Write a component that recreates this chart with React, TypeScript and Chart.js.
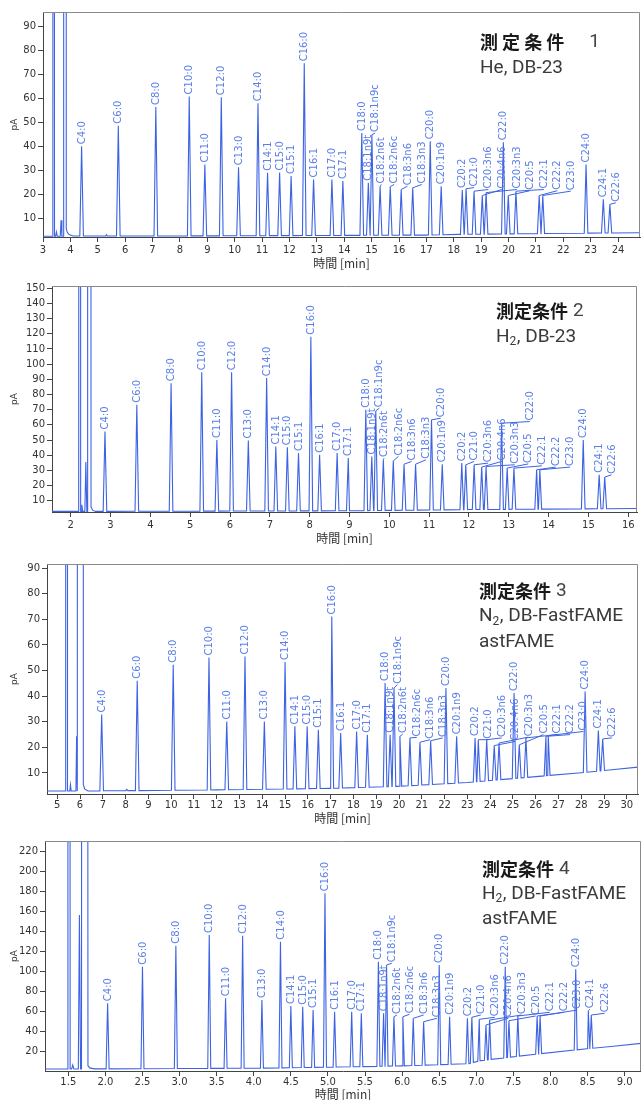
import React, { useEffect, useRef } from "react";
import { Chart, registerables } from "chart.js";
Chart.register(...registerables);

// ---------- shared peak names (elution order) ----------
const peakNames = [
  "C4:0", "C6:0", "C8:0", "C10:0", "C11:0", "C12:0", "C13:0", "C14:0", "C14:1", "C15:0",
  "C15:1", "C16:0", "C16:1", "C17:0", "C17:1", "C18:0", "C18:1n9t", "C18:1n9c", "C18:2n6t", "C18:2n6c",
  "C18:3n6", "C18:3n3", "C20:0", "C20:1n9", "C20:2", "C21:0", "C20:3n6", "C20:4n6", "C20:3n3", "C22:0",
  "C20:5", "C22:1", "C22:2", "C23:0", "C24:0", "C24:1", "C22:6",
];

// ---------- panel 1 : He, DB-23 ----------
const p1Times = [4.41, 5.75, 7.12, 8.34, 8.91, 9.51, 10.14, 10.85, 11.2, 11.64, 12.06, 12.54, 12.88, 13.55, 13.95, 14.64, 14.88, 15.01, 15.31, 15.68, 16.08, 16.5, 17.14, 17.54, 18.31, 18.45, 18.74, 19.04, 19.18, 19.81, 19.99, 20.27, 21.12, 21.25, 22.83, 23.46, 23.7];
const p1Heights = [40.2, 48.8, 56.6, 61.0, 32.6, 60.7, 31.5, 58.2, 29.2, 29.3, 27.8, 74.8, 26.4, 26.4, 25.7, 45.8, 25.0, 45.0, 23.4, 23.4, 22.2, 22.9, 42.3, 23.6, 22.0, 22.5, 21.5, 19.7, 20.9, 41.9, 19.7, 21.5, 19.7, 19.7, 32.6, 18.1, 16.0];
const p1TraceT = [3.0, 3.36, 3.39, 3.42, 3.46, 3.49, 3.52, 3.63, 3.66, 3.69, 3.74, 3.755, 3.83, 3.85, 3.88, 3.95, 4.1, 5.29, 5.32, 5.35, 10, 17, 18.2, 24.8];
const p1TraceV = [2.7, 2.7, 2000, 2.7, 2.7, 4.5, 2.7, 2.7, 9.4, 2.7, 2.7, 2000, 2000, 6, 4.5, 3.4, 2.8, 2.8, 3.3, 2.8, 2.9, 3.2, 3.5, 4.2];
const p1LabelT = [null, null, null, null, null, null, null, null, null, null, null, null, null, null, null, null, null, 15.13, 15.35, 15.82, 16.31, 16.83, null, null, null, 18.74, 19.26, 19.75, 20.3, null, 20.78, 21.29, 21.78, 22.27, null, null, 23.92];
const p1LabelV = [null, null, null, null, null, null, null, null, null, null, null, null, null, null, null, null, null, 45.8, 24.3, 24.3, 23.6, 24.3, null, null, null, 23.0, 22.2, 22.2, 22.2, null, 21.7, 22.2, 21.7, 21.5, null, null, 16.7];
const p1XTicks = { min: 3, max: 24.8, step: 1 };
const p1YTicks = { min: 2.4, max: 96.2, step: 10 };

// ---------- panel 2 : H2, DB-23 ----------
const p2Times = [2.86, 3.66, 4.52, 5.29, 5.67, 6.04, 6.46, 6.92, 7.15, 7.44, 7.72, 8.03, 8.25, 8.69, 8.97, 9.41, 9.56, 9.66, 9.85, 10.1, 10.37, 10.66, 11.06, 11.33, 11.82, 11.92, 12.13, 12.32, 12.43, 12.82, 12.96, 13.13, 13.7, 13.78, 14.87, 15.27, 15.41];
const p2Heights = [55.6, 73.2, 87.5, 94.7, 50.1, 94.7, 49.7, 90.8, 45.7, 45.3, 41.4, 118.1, 40.3, 41.4, 38.1, 69.9, 39.2, 69.2, 37.0, 36.3, 34.1, 34.1, 63.3, 34.1, 34.8, 33.7, 33.7, 32.2, 32.6, 61.1, 31.5, 31.5, 30.4, 30.4, 50.1, 27.1, 25.6];
const p2TraceT = [1.5, 2.2, 2.225, 2.25, 2.26, 2.28, 2.3, 2.355, 2.38, 2.405, 2.415, 2.425, 2.495, 2.51, 2.55, 2.62, 9, 12, 16.3];
const p2TraceV = [3.0, 3.0, 2000, 3.0, 3.0, 7.3, 3.0, 3.0, 35.5, 3.0, 3.0, 2000, 2000, 6, 3.8, 3.0, 3.4, 4.2, 4.9];
const p2LabelT = [null, null, null, null, null, null, null, null, null, null, null, null, null, null, null, null, null, 9.75, 9.87, 10.23, 10.56, 10.92, 11.29, null, null, 12.13, 12.48, 12.82, 13.15, 13.53, 13.49, 13.83, 14.18, 14.54, null, null, 15.58];
const p2LabelV = [null, null, null, null, null, null, null, null, null, null, null, null, null, null, null, null, null, 71.0, 38.1, 39.2, 35.9, 37.0, 64.4, null, null, 35.9, 34.8, 35.9, 33.7, 62.2, 34.3, 33.0, 32.2, 32.2, null, null, 27.1];
const p2XTicks = { min: 1.53, max: 16.22, step: 1 };
const p2YTicks = { min: 2.6, max: 151.5, step: 10 };

// ---------- panel 3 : N2, DB-FastFAME ----------
const p3Times = [6.95, 8.51, 10.09, 11.66, 12.44, 13.24, 14.09, 15.0, 15.43, 15.97, 16.46, 17.05, 17.44, 18.14, 18.61, 19.39, 19.61, 19.78, 20.04, 20.48, 20.92, 21.39, 22.06, 22.53, 23.34, 23.48, 23.85, 24.18, 24.39, 25.05, 25.28, 25.57, 26.45, 26.55, 28.17, 28.75, 28.94];
const p3Heights = [32.8, 46.0, 52.3, 55.1, 30.1, 55.5, 30.1, 53.3, 28.2, 28.2, 26.9, 71.1, 25.6, 26.2, 24.9, 45.1, 24.9, 43.2, 24.3, 23.7, 22.0, 22.6, 43.2, 24.3, 23.7, 23.0, 23.0, 20.7, 21.7, 41.2, 21.0, 23.7, 24.3, 24.6, 41.8, 26.6, 23.3];
const p3TraceT = [4.55, 5.35, 5.37, 5.43, 5.45, 5.55, 5.58, 5.61, 5.82, 5.85, 5.88, 5.905, 5.93, 6.12, 6.145, 6.2, 6.35, 8.0, 8.05, 8.1, 12, 17, 20, 23, 28, 30.5];
const p3TraceV = [3.0, 3.0, 2000, 2000, 3.0, 3.0, 5.4, 3.0, 3.0, 24.3, 3.0, 3.0, 2000, 2000, 5.5, 3.8, 3.0, 3.1, 3.6, 3.1, 3.4, 4.0, 4.8, 6.3, 10.1, 12.3];
const p3LabelT = [null, null, null, null, null, null, null, null, null, null, null, null, null, null, null, null, null, 19.93, 20.16, 20.78, 21.36, 21.92, null, null, null, 23.92, 24.51, 25.09, 25.68, null, 26.34, 26.92, 27.51, 28.09, null, null, 29.34];
const p3LabelV = [null, null, null, null, null, null, null, null, null, null, null, null, null, null, null, null, null, 44.5, 25.2, 23.9, 23.0, 23.7, null, null, null, 23.0, 23.7, 22.3, 24.0, null, 25.0, 25.0, 25.0, 26.2, null, null, 23.7];
const p3XTicks = { min: 4.55, max: 30.49, step: 1 };
const p3YTicks = { min: 1.8, max: 91.6, step: 10 };

// ---------- panel 4 : H2, DB-FastFAME ----------
const p4Times = [2.03, 2.5, 2.95, 3.4, 3.62, 3.85, 4.11, 4.36, 4.5, 4.66, 4.8, 4.96, 5.09, 5.32, 5.45, 5.68, 5.75, 5.79, 5.89, 6.01, 6.15, 6.29, 6.5, 6.64, 6.88, 6.94, 7.04, 7.13, 7.18, 7.39, 7.44, 7.56, 7.82, 7.86, 8.34, 8.51, 8.55];
const p4Heights = [68.4, 105, 126, 136.7, 73.4, 136, 71.7, 130, 65.7, 65, 61.7, 178.4, 60, 60, 58.4, 110, 58.4, 106.7, 55, 55, 53.4, 50, 106.7, 55, 53.4, 54.4, 52.4, 46.7, 51.7, 105, 51.0, 55.7, 55.7, 55.7, 102.4, 61, 56.7];
const p4TraceT = [1.19, 1.485, 1.495, 1.515, 1.525, 1.545, 1.56, 1.575, 1.635, 1.65, 1.665, 1.678, 1.688, 1.752, 1.765, 1.79, 1.85, 4.0, 5.0, 6.0, 6.9, 7.05, 7.8, 8.5, 8.85, 9.25];
const p4TraceV = [2.7, 2.7, 2000, 2000, 2.7, 2.7, 6.7, 2.7, 2.7, 156.7, 2.7, 2.7, 2000, 2000, 6, 3.8, 2.8, 3.5, 4.5, 5.8, 8.0, 11.0, 17.5, 23.0, 25.5, 28.5];
const p4LabelT = [null, null, null, null, null, null, null, null, null, null, null, null, null, null, null, null, null, 5.86, 5.93, 6.1, 6.29, 6.47, null, null, null, 7.06, 7.25, 7.43, 7.61, null, 7.8, 7.99, 8.18, 8.36, null, 8.53, 8.73];
const p4LabelV = [null, null, null, null, null, null, null, null, null, null, null, null, null, null, null, null, null, 108.4, 56.7, 57.4, 56.7, 53.4, null, null, null, 56.7, 54.4, 53.4, 56.7, null, 55.7, 59.4, 59.4, 61.7, null, 62.5, 58.4];
const p4XTicks = { min: 1.186, max: 9.22, step: 0.5 };
const p4YTicks = { min: 0.7, max: 230.7, step: 20 };

// ---------- texts ----------
const titleTexts = ["測 定 条 件", "測定条件", "測定条件", "測定条件"];
const titleNums = ["1", "2", "3", "4"];
const subLines = [
  [[["He, DB-23", false]]],
  [[["H", false], ["2", true], [", DB-23", false]]],
  [[["N", false], ["2", true], [", DB-FastFAME", false]], [["astFAME", false]]],
  [[["H", false], ["2", true], [", DB-FastFAME", false]], [["astFAME", false]]],
] as [string, boolean][][][];
const xAxisTitle = "時間 [min]";
const yAxisTitle = "pA";

const LINE_COLOR = "#3d63e2";
const LABEL_COLOR = "#5b7fe8";
const AXIS_COLOR = "#444";
const FRAME_COLOR = "#8a8a8a";

type Pt = { x: number; y: number };

interface PanelDef {
  canvasTop: number;
  canvasH: number;
  area: { left: number; right: number; top: number; bottom: number };
  xt: { min: number; max: number; step: number };
  yt: { min: number; max: number; step: number };
  xDecimals: number;
  times: number[];
  heights: number[];
  traceT: number[];
  traceV: number[];
  labelT: (number | null)[];
  labelV: (number | null)[];
  hwPx: number;
  idx: number;
  titleX: number;
  titleY: number;
  numGap: number;
  lineGap: number;
  xTitleY: number;
  xTickPad: number;
}

const panels: PanelDef[] = [
  { canvasTop: 0, canvasH: 275, area: { left: 43, right: 640, top: 12, bottom: 237 }, xt: p1XTicks, yt: p1YTicks, xDecimals: 0, times: p1Times, heights: p1Heights, traceT: p1TraceT, traceV: p1TraceV, labelT: p1LabelT, labelV: p1LabelV, hwPx: 1.8, idx: 0, titleX: 480, titleY: 42, numGap: 25, lineGap: 26, xTitleY: 263, xTickPad: 2 },
  { canvasTop: 275, canvasH: 280, area: { left: 52, right: 637, top: 11, bottom: 237 }, xt: p2XTicks, yt: p2YTicks, xDecimals: 0, times: p2Times, heights: p2Heights, traceT: p2TraceT, traceV: p2TraceV, labelT: p2LabelT, labelV: p2LabelV, hwPx: 1.8, idx: 1, titleX: 496, titleY: 36, numGap: 5, lineGap: 26, xTitleY: 263, xTickPad: 2 },
  { canvasTop: 555, canvasH: 278, area: { left: 47, right: 638, top: 9, bottom: 239 }, xt: p3XTicks, yt: p3YTicks, xDecimals: 0, times: p3Times, heights: p3Heights, traceT: p3TraceT, traceV: p3TraceV, labelT: p3LabelT, labelV: p3LabelV, hwPx: 1.8, idx: 2, titleX: 479, titleY: 36, numGap: 5, lineGap: 25.5, xTitleY: 263, xTickPad: 0 },
  { canvasTop: 823, canvasH: 277, area: { left: 45, right: 641, top: 18, bottom: 248 }, xt: p4XTicks, yt: p4YTicks, xDecimals: 1, times: p4Times, heights: p4Heights, traceT: p4TraceT, traceV: p4TraceV, labelT: p4LabelT, labelV: p4LabelV, hwPx: 1.5, idx: 3, titleX: 482, titleY: 46, numGap: 5, lineGap: 25, xTitleY: 271, xTickPad: 0 },
];

function traceAt(t: number, bt: number[], bv: number[]): number {
  if (t <= bt[0]) return bv[0];
  for (let i = 1; i < bt.length; i++) {
    if (t <= bt[i]) {
      const f = (t - bt[i - 1]) / (bt[i] - bt[i - 1]);
      return bv[i - 1] + f * (bv[i] - bv[i - 1]);
    }
  }
  return bv[bv.length - 1];
}

function buildPoints(p: PanelDef): Pt[] {
  const pxPerMin = (p.area.right - p.area.left) / (p.xt.max - p.xt.min);
  const hw = p.hwPx / pxPerMin;
  const pts: Pt[] = [];
  p.traceT.forEach((t, i) => pts.push({ x: t, y: p.traceV[i] }));
  p.times.forEach((t, i) => {
    pts.push({ x: t - hw, y: traceAt(t - hw, p.traceT, p.traceV) });
    pts.push({ x: t, y: p.heights[i] });
    pts.push({ x: t + hw, y: traceAt(t + hw, p.traceT, p.traceV) });
  });
  pts.sort((a, b) => a.x - b.x);
  return pts;
}

function makeChart(canvas: HTMLCanvasElement, p: PanelDef) {
  const tickFont = { family: "DejaVu Sans", size: 10 };
  const framePlugin = {
    id: "frame" + p.idx,
    afterDatasetsDraw(chart: any) {
      const { ctx, chartArea: a } = chart;
      ctx.save();
      ctx.strokeStyle = FRAME_COLOR;
      ctx.lineWidth = 1;
      ctx.beginPath();
      ctx.moveTo(a.left, a.top + 0.5);
      ctx.lineTo(a.right - 0.5, a.top + 0.5);
      ctx.lineTo(a.right - 0.5, a.bottom);
      ctx.stroke();
      ctx.restore();
    },
  };
  const labelPlugin = {
    id: "labels" + p.idx,
    afterDatasetsDraw(chart: any) {
      const { ctx } = chart;
      const xs = chart.scales.x;
      const ys = chart.scales.y;
      ctx.save();
      ctx.font = "10px 'DejaVu Sans'";
      ctx.textAlign = "left";
      ctx.textBaseline = "middle";
      p.times.forEach((t, i) => {
        const ax = xs.getPixelForValue(t);
        const ay = ys.getPixelForValue(p.heights[i]);
        let lx = ax;
        let ly = ay - 2;
        const lt = p.labelT[i];
        const lv = p.labelV[i];
        if (lt !== null && lv !== null) {
          lx = xs.getPixelForValue(lt);
          ly = ys.getPixelForValue(lv);
          ctx.strokeStyle = LINE_COLOR;
          ctx.lineWidth = 1;
          ctx.beginPath();
          ctx.moveTo(ax, ay);
          ctx.lineTo(lx, ly);
          ctx.stroke();
          ly -= 1;
        }
        ctx.fillStyle = LABEL_COLOR;
        ctx.save();
        ctx.translate(lx, ly);
        ctx.rotate(-Math.PI / 2);
        ctx.fillText(peakNames[i], 0, 0.5);
        ctx.restore();
      });
      ctx.restore();
    },
  };
  const textPlugin = {
    id: "texts" + p.idx,
    afterDraw(chart: any) {
      const { ctx, chartArea: a } = chart;
      ctx.save();
      ctx.fillStyle = "#333";
      ctx.textBaseline = "middle";
      ctx.textAlign = "center";
      ctx.font = "12px 'Noto Sans CJK JP'";
      ctx.fillText(xAxisTitle, (a.left + a.right) / 2, p.xTitleY);
      ctx.save();
      ctx.translate(15, (a.top + a.bottom) / 2);
      ctx.rotate(-Math.PI / 2);
      ctx.font = "9px 'DejaVu Sans'";
      ctx.fillText(yAxisTitle, 0, 0);
      ctx.restore();
      ctx.textAlign = "left";
      ctx.font = "bold 18px 'Noto Sans CJK JP'";
      ctx.fillStyle = "#1a1a1a";
      ctx.fillText(titleTexts[p.idx], p.titleX, p.titleY);
      const w = ctx.measureText(titleTexts[p.idx]).width;
      ctx.font = "19px Roboto";
      ctx.fillStyle = "#444";
      ctx.fillText(titleNums[p.idx], p.titleX + w + p.numGap, p.titleY);
      subLines[p.idx].forEach((segs, li) => {
        let x = p.titleX;
        const y = p.titleY + p.lineGap * (li + 1);
        segs.forEach(([txt, sub]) => {
          ctx.font = sub ? "12px Roboto" : "19px Roboto";
          ctx.fillStyle = "#3a3a3a";
          ctx.fillText(txt, x, sub ? y + 5 : y);
          x += ctx.measureText(txt).width + (sub ? 0.5 : 0);
        });
      });
      ctx.restore();
    },
  };

  const pts = buildPoints(p);
  return new Chart(canvas, {
    type: "line",
    data: {
      datasets: [
        {
          data: pts as any,
          borderColor: LINE_COLOR,
          borderWidth: 1.1,
          pointRadius: 0,
          tension: 0,
          fill: false,
        },
      ],
    },
    options: {
      animation: false,
      responsive: false,
      parsing: false,
      events: [],
      layout: { padding: { top: p.area.top, right: 641 - p.area.right, left: 0, bottom: 0 } },
      plugins: { legend: { display: false }, tooltip: { enabled: false }, title: { display: false } },
      scales: {
        x: {
          type: "linear",
          min: p.xt.min,
          max: p.xt.max,
          afterFit: (s: any) => {
            s.height = p.canvasH - p.area.bottom;
          },
          ticks: {
            stepSize: p.xt.step,
            autoSkip: false,
            maxRotation: 0,
            includeBounds: false,
            font: tickFont,
            color: "#333",
            padding: p.xTickPad,
            callback: (v: any) => Number(v).toFixed(p.xDecimals),
          },
          grid: { display: true, drawOnChartArea: false, drawTicks: true, tickLength: 5, color: AXIS_COLOR },
          border: { display: true, color: AXIS_COLOR },
        },
        y: {
          type: "linear",
          min: p.yt.min,
          max: p.yt.max,
          afterFit: (s: any) => {
            s.width = p.area.left;
          },
          ticks: {
            stepSize: p.yt.step,
            includeBounds: false,
            font: tickFont,
            color: "#333",
            padding: 2,
          },
          grid: { display: true, drawOnChartArea: false, drawTicks: true, tickLength: 5, color: AXIS_COLOR },
          border: { display: true, color: AXIS_COLOR },
        },
      },
    } as any,
    plugins: [framePlugin, labelPlugin, textPlugin],
  });
}

function PanelChart({ p }: { p: PanelDef }) {
  const ref = useRef<HTMLCanvasElement>(null);
  useEffect(() => {
    if (!ref.current) return;
    const chart = makeChart(ref.current, p);
    return () => chart.destroy();
  }, [p]);
  return (
    <canvas
      ref={ref}
      width={641}
      height={p.canvasH}
      style={{ position: "absolute", left: 0, top: p.canvasTop, width: 641, height: p.canvasH, display: "block" }}
    />
  );
}

export default function App() {
  return (
    <div style={{ position: "absolute", left: 0, top: 0, width: 641, height: 1100, background: "#fff", overflow: "hidden" }}>
      {panels.map((p) => (
        <PanelChart key={p.idx} p={p} />
      ))}
    </div>
  );
}
